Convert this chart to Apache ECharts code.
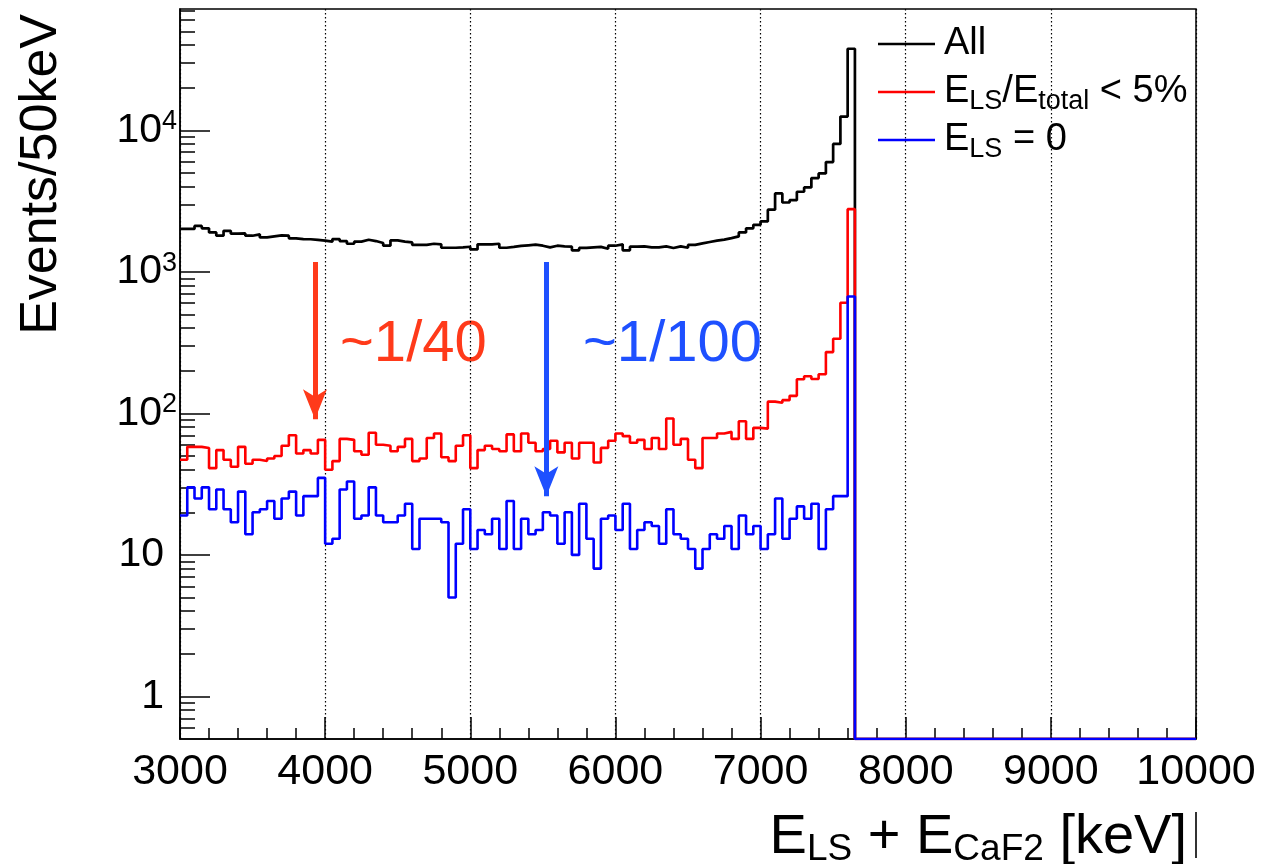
<!DOCTYPE html>
<html><head><meta charset="utf-8">
<script src="https://cdn.jsdelivr.net/npm/echarts@6/dist/echarts.min.js"></script>
<style>html,body{margin:0;padding:0;background:#fff}#c{width:1261px;height:864px}</style>
</head><body><div id="c"></div>
<script>
// ---- data (50 keV bins from 3000 keV) ----
const binStart = 3000;
const binWidth = 50;
const allCounts = [
 2010,2010,2110,2030,1900,1800,1950,1860,1870,1800,
 1840,1750,1780,1810,1800,1725,1705,1700,1680,1660,
 1635,1705,1650,1580,1635,1685,1650,1600,1530,1670,
 1635,1615,1550,1550,1580,1565,1480,1480,1490,1505,
 1440,1565,1565,1580,1480,1500,1525,1540,1555,1530,
 1490,1530,1515,1505,1420,1475,1490,1500,1455,1530,
 1565,1420,1505,1515,1490,1490,1515,1475,1515,1480,
 1550,1590,1625,1660,1690,1730,1780,1900,2030,2150,
 2270,2750,3580,3090,3210,3680,3950,4600,4960,5970,
 8010,12500,37700];
const lowLSCounts = [
 47,58,58,57,41,55,47,42,58,44,
 47,46,48,50,59,70,52,55,52,65,
 40,46,66,65,54,51,73,60,59,54,
 58,66,46,48,67,72,49,46,59,70,
 41,55,59,56,54,71,54,72,62,54,
 56,64,53,62,48,62,62,45,57,64,
 72,69,62,65,56,67,56,92,60,66,
 47,41,67,67,72,74,66,88,66,79,
 78,121,119,124,133,174,183,175,189,271,
 337,605,2773];
const zeroLSCounts = [
 19,30,25,30,21,29,21,17,28,14,
 20,21,24,18,25,28,19,26,26,35,
 12,13,29,33,18,19,30,19,17,17,
 19,23,11,18,18,18,17,5,12,21,
 11,15,14,18,11,24,11,18,14,15,
 20,19,12,20,10,23,13,8,18,19,
 15,23,11,15,17,16,12,21,14,13,
 11,8,11,14,13,16,11,19,14,16,
 11,14,25,13,18,22,18,23,11,21,
 26,26,670];
const seriesNames = ['All', 'E_LS/E_total < 5%', 'E_LS = 0'];
const xMin = 3000, xMax = 10000, xStep = 1000;
const yMin = 0.5, yMax = 72000;
const yMajorValues = [1, 10, 100, 1000, 10000];
const yMajorLabels = ['{b|1}{p|}', '{b|10}{p|}', '{b|10}{s|2}', '{b|10}{s|3}', '{b|10}{s|4}'];
const yMinorMantissas = [2,3,4,5,6,7,8,9];
const ratioLabels = ['~1/40', '~1/100'];

// ---- helpers ----
const FONT = '"Liberation Sans", Arial, Helvetica, sans-serif';
function histData(counts) {
  const d = counts.map((v, i) => [binStart + i * binWidth, v]);
  const endEdge = binStart + counts.length * binWidth;
  d.push([endEdge, yMin]);   // empty bins above the edge sit on the axis floor
  d.push([xMax, yMin]);
  return d;
}
const yMinorValues = [];
[0.1, 1, 10, 100, 1000, 10000].forEach(dec => yMinorMantissas.forEach(m => {
  const v = +(m * dec).toPrecision(3);
  if (v > yMin && v < yMax && yMajorValues.indexOf(v) < 0) yMinorValues.push(v);
}));

const chart = echarts.init(document.getElementById('c'), null, {renderer: 'canvas'});
const legendRich = {
  m: {fontSize: 38, fontFamily: FONT, color: '#000', lineHeight: 46, verticalAlign: 'middle'},
  s: {fontSize: 27, fontFamily: FONT, color: '#000', lineHeight: 16, verticalAlign: 'bottom'}
};
const legendText = {
  'All': '{m|All}',
  'E_LS/E_total < 5%': '{m|E}{s|LS}{m|/E}{s|total}{m| < 5%}',
  'E_LS = 0': '{m|E}{s|LS}{m| = 0}'
};
const arrowCommon = {
  silent: true, symbol: ['none', 'arrow'], symbolSize: [18, 30],
  label: {show: false}, emphasis: {disabled: true}, animation: false
};

chart.setOption({
  animation: false,
  backgroundColor: '#fff',
  grid: {left: 180, right: 65, top: 9, bottom: 125, show: true, borderColor: '#000', borderWidth: 1.5, backgroundColor: 'transparent'},
  legend: {
    orient: 'vertical', left: 873, top: 16, itemWidth: 57, itemHeight: 2.5, itemGap: 2,
    icon: 'rect', data: seriesNames, selectedMode: false,
    textStyle: {fontSize: 38, fontFamily: FONT, color: '#000', lineHeight: 46, padding: [0, 0, 0, 4], rich: legendRich},
    formatter: n => legendText[n]
  },
  xAxis: {
    type: 'value', min: xMin, max: xMax, interval: xStep,
    axisLine: {lineStyle: {color: '#000', width: 1.5}},
    axisTick: {inside: true, length: 22, lineStyle: {color: '#000', width: 1.5}},
    minorTick: {show: true, splitNumber: 5, length: 11, lineStyle: {color: '#000', width: 1.5}},
    axisLabel: {fontSize: 43, fontFamily: FONT, color: '#000', margin: 12, formatter: v => String(v)},
    splitLine: {show: true, lineStyle: {color: '#000', width: 1.2, type: [1.5, 2.5]}}
  },
  yAxis: [{
    type: 'log', logBase: 10, min: yMin, max: yMax, position: 'left',
    axisLine: {show: true, lineStyle: {color: '#000', width: 1.5}},
    axisTick: {inside: true, length: 30, customValues: yMajorValues, lineStyle: {color: '#000', width: 1.5}},
    axisLabel: {
      customValues: yMajorValues, margin: 3, fontFamily: FONT, color: '#000',
      formatter: v => yMajorLabels[Math.round(Math.log10(v))],
      rich: {
        b: {fontSize: 41, fontFamily: FONT, color: '#000', lineHeight: 44, verticalAlign: 'middle'},
        s: {fontSize: 27, fontFamily: FONT, color: '#000', lineHeight: 28, verticalAlign: 'top'},
        p: {width: 13, lineHeight: 44}
      }
    },
    splitLine: {show: false}
  }, {
    type: 'log', logBase: 10, min: yMin, max: yMax, position: 'left', offset: 0,
    axisLine: {show: false},
    axisTick: {show: true, inside: true, length: 15, customValues: yMinorValues, lineStyle: {color: '#000', width: 1.5}},
    axisLabel: {show: false},
    splitLine: {show: false}
  }],
  series: [{
    name: seriesNames[0], type: 'line', step: 'end', showSymbol: false, symbol: 'none',
    data: histData(allCounts), color: '#000',
    lineStyle: {color: '#000', width: 2.7}, z: 2
  }, {
    name: seriesNames[1], type: 'line', step: 'end', showSymbol: false, symbol: 'none',
    data: histData(lowLSCounts), color: '#ff0000',
    lineStyle: {color: '#ff0000', width: 2.6}, z: 3,
    markLine: Object.assign({}, arrowCommon, {
      lineStyle: {color: '#ff3a1a', width: 5, type: 'solid'},
      itemStyle: {color: '#ff3a1a'},
      data: [[{coord: [3930, 1175]}, {coord: [3930, 91]}]]
    })
  }, {
    name: seriesNames[2], type: 'line', step: 'end', showSymbol: false, symbol: 'none',
    data: histData(zeroLSCounts), color: '#0000ff',
    lineStyle: {color: '#0000ff', width: 2.6}, z: 4,
    markLine: Object.assign({}, arrowCommon, {
      lineStyle: {color: '#1e50ff', width: 5, type: 'solid'},
      itemStyle: {color: '#1e50ff'},
      data: [[{coord: [5524, 1175]}, {coord: [5524, 26]}]]
    })
  }],
  graphic: [
    {type: 'text', x: 42, y: 14, rotation: Math.PI / 2, silent: true,
     style: {text: 'Events/50keV', fontSize: 52, fontFamily: FONT, fill: '#000', align: 'right', verticalAlign: 'middle'}},
    {type: 'text', x: 1187, y: 838, silent: true,
     style: {text: '{m|E}{s|LS}{m| + E}{s|CaF2}{m| [keV]}', align: 'right', verticalAlign: 'middle',
       rich: {
         m: {fontSize: 56, fontFamily: FONT, fill: '#000', lineHeight: 60, verticalAlign: 'middle'},
         s: {fontSize: 37, fontFamily: FONT, fill: '#000', lineHeight: 24, verticalAlign: 'bottom'}
       }}},
    {type: 'line', silent: true, shape: {x1: 1196, y1: 812, x2: 1196, y2: 858}, style: {stroke: '#333', lineWidth: 2}},
    {type: 'text', x: 340, y: 345, silent: true,
     style: {text: ratioLabels[0], fontSize: 58, fontFamily: FONT, fill: '#ff3a1a', align: 'left', verticalAlign: 'middle'}},
    {type: 'text', x: 583, y: 345, silent: true,
     style: {text: ratioLabels[1], fontSize: 58, fontFamily: FONT, fill: '#1e50ff', align: 'left', verticalAlign: 'middle'}}
  ]
});
</script>
</body></html>
